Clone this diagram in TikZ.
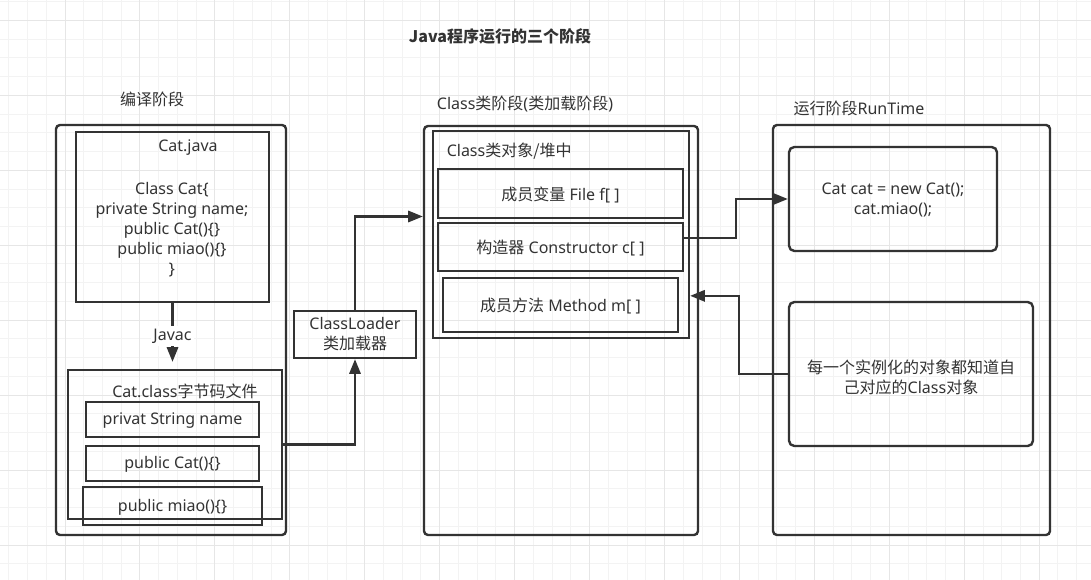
\documentclass[tikz,border=0pt]{standalone}
\usepackage{fontspec}
\setmainfont{Noto Sans}
\newfontfamily\cjk{Noto Sans CJK SC}
\usetikzlibrary{arrows.meta,calc}
\definecolor{ink}{HTML}{333333}
\definecolor{gridminor}{HTML}{F3F3F3}
\definecolor{gridmajor}{HTML}{E6E6E6}

% rectangle node given by its corners in pixel units
\newcommand\boxat[6]{%
  \node[#1, minimum width={(#5-#3)*0.75pt}, minimum height={(#6-#4)*0.75pt}]
    (#2) at ({(#3+#5)/2},{(#4+#6)/2}) {};}

\begin{document}
\begin{tikzpicture}[x=0.75pt,y=-0.75pt,
  every node/.style={font=\fontsize{12pt}{15pt}\selectfont, text=ink},
  box/.style={draw=ink, line width=1.8pt, inner sep=0pt},
  stage/.style={box, rounded corners=3pt},
  card/.style={box, rounded corners=4pt},
  link/.style={draw=ink, line width=1.6pt, -{Triangle[length=11pt,width=8.5pt]}},
  txt/.style={inner sep=0pt, align=center}
]
\useasboundingbox (0,0) rectangle (1091,580);
\fill[white] (0,0) rectangle (1091,580);

% background grid
\foreach \i in {0,...,57}
  \draw[gridminor, line width=0.75pt] ({8.8+\i*18.735},0) -- ({8.8+\i*18.735},580);
\foreach \i in {0,...,30}
  \draw[gridminor, line width=0.75pt] (0,{1.7+\i*18.735}) -- (1091,{1.7+\i*18.735});
\foreach \i in {3,7,...,55}
  \draw[gridmajor, line width=0.75pt] ({8.8+\i*18.735},0) -- ({8.8+\i*18.735},580);
\foreach \i in {1,5,...,29}
  \draw[gridmajor, line width=0.75pt] (0,{1.7+\i*18.735}) -- (1091,{1.7+\i*18.735});

% title and stage headings
\node[txt, font=\fontsize{12pt}{15pt}\selectfont\bfseries\cjk] (title) at (500,36) {Java程序运行的三个阶段};
\node[txt] (h1) at (152,99) {\cjk 编译阶段};
\node[txt] (h2) at (525,104) {Class{\cjk 类阶段}({\cjk 类加载阶段})};
\node[txt] (h3) at (859,108) {{\cjk 运行阶段}RunTime};

% compile stage
\boxat{stage}{stage1}{56}{125}{286}{535}
\boxat{box}{javasrc}{76}{132}{269}{302}
\node[txt] (javaname) at (188,148) {Cat.java};
\node[txt] (javacode) at (172,230) {Class Cat\{\\private String name;\\public Cat()\{\}\\public miao()\{\}\\\}};
\boxat{box}{classfile}{68}{370}{282}{519}
\node[txt] (classname) at (185,391) {Cat.class{\cjk 字节码文件}};
\boxat{box}{fld1}{86}{402}{259}{437}
\node[txt] at ([yshift=-1pt]fld1.center) {privat String name};
\boxat{box}{ctor1}{86}{446}{259}{481}
\node[txt] at ([yshift=-1pt]ctor1.center) {public Cat()\{\}};
\boxat{box}{mth1}{83}{487}{262}{525}
\node[txt] at ([yshift=-1pt]mth1.center) {public miao()\{\}};

% class loader
\boxat{box}{loader}{294}{311}{416}{358}
\node[txt] at (loader) {ClassLoader\\{\cjk 类加载器}};

% class loading stage
\boxat{stage}{stage2}{424}{126}{698}{535}
\boxat{box}{heap}{433}{131}{689}{338}
\node[txt, anchor=west] (heapname) at (446.5,151) {Class{\cjk 类对象/堆中}};
\boxat{box}{fields}{438}{169}{683}{218}
\node[txt] at ([yshift=-1pt]fields.center) {{\cjk 成员变量} File f[ ]};
\boxat{box}{ctors}{438}{223}{683}{271}
\node[txt] at ([yshift=-1pt]ctors.center) {{\cjk 构造器} Constructor c[ ]};
\boxat{box}{methods}{443}{278}{678}{332}
\node[txt] at ([yshift=-1pt]methods.center) {{\cjk 成员方法} Method m[ ]};

% runtime stage
\boxat{stage}{stage3}{773}{125}{1050}{535}
\boxat{card}{newcat}{789}{147}{997}{251}
\node[txt] at ([yshift=-1pt]newcat.center) {Cat cat = new Cat();\\cat.miao();};
\boxat{card}{note}{789}{302}{1033}{446}
\node[txt] at ([yshift=-2.5pt]note.center) {{\cjk 每一个实例化的对象都知道自}\\{\cjk 己对应的}Class{\cjk 对象}};

% connectors
\draw[link, shorten >=5.25pt] (javasrc.south) -- node[fill=white, inner sep=2pt] {Javac} (javasrc.south |- classfile.north);
\draw[link] (classfile.east) -| (loader.south);
\draw[link] (loader.north) |- ([yshift=85.5pt]stage2.west);
\coordinate (ctorout) at ([yshift=7pt]ctors.east);
\draw[link] (ctorout) -| ($(ctorout)!.5!(newcat.west)$) |- (newcat.west);
\coordinate (methin) at ([yshift=-46pt]heap.east);
\draw[link] (note.west) -| ($(note.west)!.5!(methin)$) |- (methin);
\end{tikzpicture}
\end{document}
